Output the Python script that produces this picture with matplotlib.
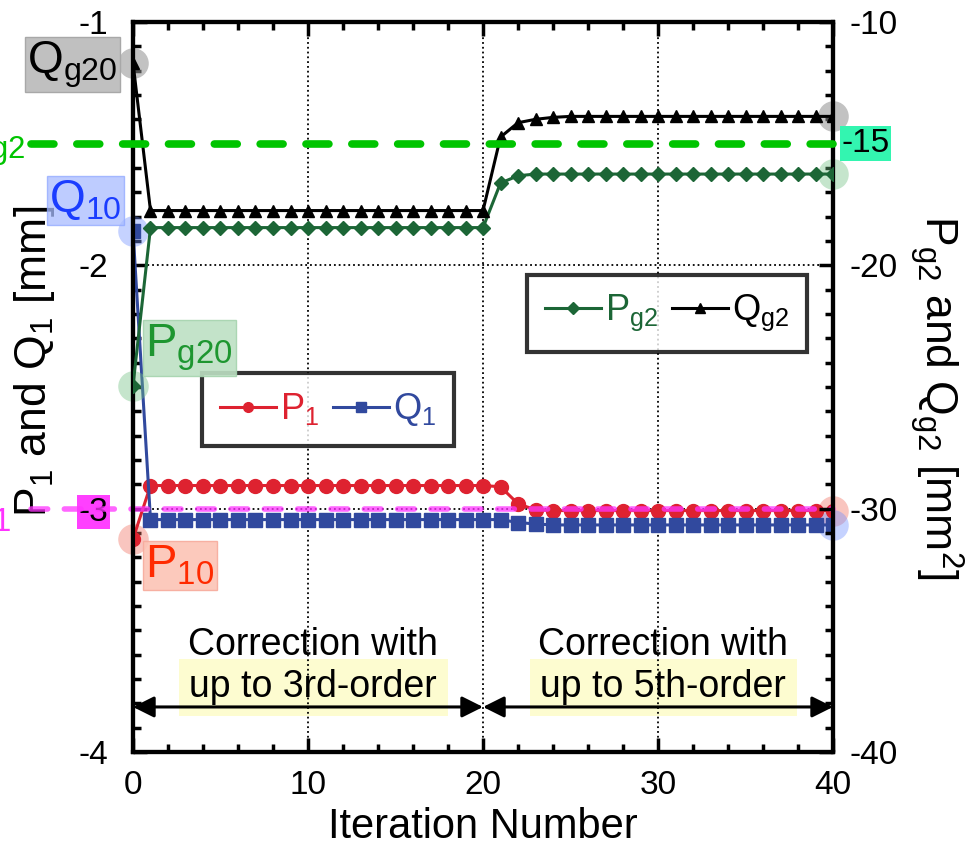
import matplotlib
matplotlib.use("Agg")
import matplotlib.pyplot as plt
from matplotlib.ticker import MultipleLocator

plt.rcParams["font.family"] = ["Liberation Sans", "DejaVu Sans"]
plt.rcParams["mathtext.fontset"] = "custom"
plt.rcParams["mathtext.rm"] = "Liberation Sans"
plt.rcParams["mathtext.it"] = "Liberation Sans"
plt.rcParams["axes.unicode_minus"] = False

# ─── data ────────────────────────────────────────────────────────────────────
iteration = list(range(41))

# P1, Q1 [mm] (left axis)
p1 = [-3.125,
      -2.905, -2.905, -2.905, -2.905, -2.905, -2.905, -2.905, -2.905, -2.905, -2.905,
      -2.905, -2.905, -2.905, -2.905, -2.905, -2.905, -2.905, -2.905, -2.905, -2.905,
      -2.910, -2.980, -3.005, -3.008, -3.008, -3.008, -3.008, -3.008, -3.008, -3.008,
      -3.008, -3.008, -3.008, -3.008, -3.008, -3.008, -3.008, -3.008, -3.008, -3.008]
q1 = [-1.858,
      -3.045, -3.045, -3.045, -3.045, -3.045, -3.045, -3.045, -3.045, -3.045, -3.045,
      -3.045, -3.045, -3.045, -3.045, -3.045, -3.045, -3.045, -3.045, -3.045, -3.045,
      -3.045, -3.057, -3.063, -3.067, -3.067, -3.067, -3.067, -3.067, -3.067, -3.067,
      -3.067, -3.067, -3.067, -3.067, -3.067, -3.067, -3.067, -3.067, -3.067, -3.067]

# Pg2, Qg2 [mm^2] (right axis)
pg2 = [-24.95,
       -18.45, -18.45, -18.45, -18.45, -18.45, -18.45, -18.45, -18.45, -18.45, -18.45,
       -18.45, -18.45, -18.45, -18.45, -18.45, -18.45, -18.45, -18.45, -18.45, -18.45,
       -16.62, -16.32, -16.25, -16.25, -16.25, -16.25, -16.25, -16.25, -16.25, -16.25,
       -16.25, -16.25, -16.25, -16.25, -16.25, -16.25, -16.25, -16.25, -16.25, -16.25]
qg2 = [-11.68,
       -17.75, -17.75, -17.75, -17.75, -17.75, -17.75, -17.75, -17.75, -17.75, -17.75,
       -17.75, -17.75, -17.75, -17.75, -17.75, -17.75, -17.75, -17.75, -17.75, -17.75,
       -14.73, -14.14, -14.00, -13.92, -13.88, -13.88, -13.88, -13.88, -13.88, -13.88,
       -13.88, -13.88, -13.88, -13.88, -13.88, -13.88, -13.88, -13.88, -13.88, -13.88]

# target values
p1_target = -3.0
pg2_target = -15.0

# correction stages: (start, end, order text)
stages = [(0, 20, "up to 3rd-order"), (20, 40, "up to 5th-order")]

C_P1 = "#de2230"
C_Q1 = "#31499e"
C_PG2 = "#1c6636"
C_QG2 = "black"

# ─── figure ──────────────────────────────────────────────────────────────────
fig = plt.figure(figsize=(9.75, 8.52), dpi=100)
ax = fig.add_axes([0.1364, 0.1174, 0.718, 0.8568])
ax2 = ax.twinx()

ax.set_xlim(0, 40)
ax.set_ylim(-4, -1)
ax2.set_ylim(-40, -10)

ax.xaxis.set_major_locator(MultipleLocator(10))
ax.xaxis.set_minor_locator(MultipleLocator(2))
ax.yaxis.set_major_locator(MultipleLocator(1))
ax.yaxis.set_minor_locator(MultipleLocator(0.1))
ax2.yaxis.set_major_locator(MultipleLocator(10))
ax2.yaxis.set_minor_locator(MultipleLocator(1))

ax.tick_params(which="both", direction="in", top=True, right=False, width=2.5)
ax.tick_params(which="major", length=10)
ax.tick_params(which="minor", length=6)
ax.tick_params(axis="y", labelsize=24, pad=18)
ax.tick_params(axis="x", labelsize=24, pad=13)
ax2.tick_params(which="both", direction="in", width=2.5, labelsize=24, pad=12)
ax2.tick_params(which="major", length=10)
ax2.tick_params(which="minor", length=6)
for a in (ax, ax2):
    for s in a.spines.values():
        s.set_linewidth(3)

ax.grid(which="major", ls=":", color="black", lw=1.3)

# main curves
ax.plot(iteration, p1, "-o", color=C_P1, lw=2.2, ms=10, label="P$_1$", zorder=3)
ax.plot(iteration, q1, "-s", color=C_Q1, lw=2.2, ms=9.5, label="Q$_1$", zorder=3)
ax2.plot(iteration, pg2, "-D", color=C_PG2, lw=2.2, ms=7.5, label="P$_{\\mathrm{g2}}$", zorder=3)
ax2.plot(iteration, qg2, "-^", color=C_QG2, lw=2.2, ms=9, label="Q$_{\\mathrm{g2}}$", zorder=3)

# target lines, running out past the left spine
ax.plot([-5.8, 40], [p1_target, p1_target], color="#ff33ff", alpha=0.75, lw=4,
        dashes=(3, 3), dash_capstyle="round", clip_on=False, zorder=4)
ax2.plot([-5.8, 40], [pg2_target, pg2_target], color="#00c400", lw=5.5,
         dashes=(3, 3), dash_capstyle="round", clip_on=False, zorder=4)
fig.text(12 / 975, 1 - 512 / 852, "P$_1$", color="#ff33ff", fontsize=34,
         ha="right", va="center")
fig.text(25 / 975, 1 - 143 / 852, "Q$_{\\mathrm{g2}}$", color="#00c400", fontsize=32,
         ha="right", va="center")

# highlighted tick values
for lab in ax.get_yticklabels():
    if lab.get_text() == "-3":
        lab.set_bbox(dict(boxstyle="square,pad=0.05", fc="#ff40ff", ec="none"))
ax2.text(1.012, pg2_target, "-15", transform=ax2.get_yaxis_transform(), fontsize=24,
         ha="left", va="center", clip_on=False,
         bbox=dict(boxstyle="square,pad=0.05", fc="#33f5b0", ec="none"))

# start / end point markers
ax.plot([0, 40], [p1[0], p1[-1]], "o", ms=22, color="#f07060", alpha=0.4,
        mec="none", clip_on=False, zorder=2)
ax.plot([0, 40], [q1[0], q1[-1]], "o", ms=22, color="#7090ff", alpha=0.4,
        mec="none", clip_on=False, zorder=2)
ax2.plot([0, 40], [pg2[0], pg2[-1]], "o", ms=22, color="#70c080", alpha=0.4,
         mec="none", clip_on=False, zorder=2)
ax2.plot([0, 40], [qg2[0], qg2[-1]], "o", ms=22, color="#909090", alpha=0.55,
         mec="none", clip_on=False, zorder=2)

# initial value labels
ax2.annotate("Q$_{\\mathrm{g20}}$", xy=(0, qg2[0]), xytext=(-11, -1),
             textcoords="offset points", ha="right", va="center", fontsize=33,
             color="black", annotation_clip=False,
             bbox=dict(boxstyle="square,pad=0.05", fc="#c0c0c0", ec="#a8a8a8"))
ax.annotate("Q$_{\\mathrm{10}}$", xy=(0, q1[0]), xytext=(-8, 6),
            textcoords="offset points", ha="right", va="bottom", fontsize=33,
            color="#1a3cff", annotation_clip=False,
            bbox=dict(boxstyle="square,pad=0.05", fc="#a8bcff", ec="#90a8ff", alpha=0.75))
ax2.annotate("P$_{\\mathrm{g20}}$", xy=(0, pg2[0]), xytext=(9, 9),
             textcoords="offset points", ha="left", va="bottom", fontsize=34,
             color="#1e9630", annotation_clip=False,
             bbox=dict(boxstyle="square,pad=0.05", fc="#bde0c3", ec="#a5d3ae", alpha=0.9))
ax.annotate("P$_{\\mathrm{10}}$", xy=(0, p1[0]), xytext=(9, -3),
            textcoords="offset points", ha="left", va="top", fontsize=34,
            color="#ff2a00", annotation_clip=False,
            bbox=dict(boxstyle="square,pad=0.05", fc="#fcc3b5", ec="#f7ab9c", alpha=0.9))

# correction stage arrows and captions
for x0, x1, order in stages:
    ax.annotate("", xy=(x0, -3.815), xytext=(x1, -3.815),
                arrowprops=dict(arrowstyle="<|-|>", color="black", lw=2.2,
                                mutation_scale=32, shrinkA=0, shrinkB=0),
                zorder=5)
    xc = (x0 + x1) / 2 + 0.3
    ax.text(xc, -3.56, "Correction with", fontsize=27, ha="center", va="center",
            zorder=1)
    ax.text(xc, -3.735, order, fontsize=27, ha="center", va="center", zorder=1,
            bbox=dict(boxstyle="square,pad=0.28", fc="#fdfcd0", ec="none"))

# legends
leg_kw = dict(loc="upper left", borderaxespad=0, ncol=2, fontsize=26, frameon=True,
              fancybox=False, handlelength=1.55, handletextpad=0.1,
              columnspacing=0.4, borderpad=0.5)
leg1 = ax.legend(bbox_to_anchor=(0.0986, 0.519), markerscale=0.7, **leg_kw)
leg1.get_frame().set_edgecolor("black")
leg1.get_frame().set_linewidth(3)
for t, c in zip(leg1.get_texts(), [C_P1, C_Q1]):
    t.set_color(c)

leg2 = ax2.legend(bbox_to_anchor=(0.563, 0.6534), markerscale=0.8, **leg_kw)
leg2.get_frame().set_edgecolor("black")
leg2.get_frame().set_linewidth(3)
for t, c in zip(leg2.get_texts(), [C_PG2, C_QG2]):
    t.set_color(c)

# axis labels
ax.set_xlabel("Iteration Number", fontsize=30, labelpad=4)
ax.set_ylabel("P$_1$ and Q$_1$ [mm]", fontsize=32)
ax.yaxis.set_label_coords(-0.108, 0.535)
ax2.set_ylabel("P$_{\\mathrm{g2}}$ and Q$_{\\mathrm{g2}}$ [mm$^2$]", fontsize=32,
               rotation=270, va="bottom")
ax2.yaxis.set_label_coords(1.107, 0.486)

fig.savefig("out.png", dpi=100)
